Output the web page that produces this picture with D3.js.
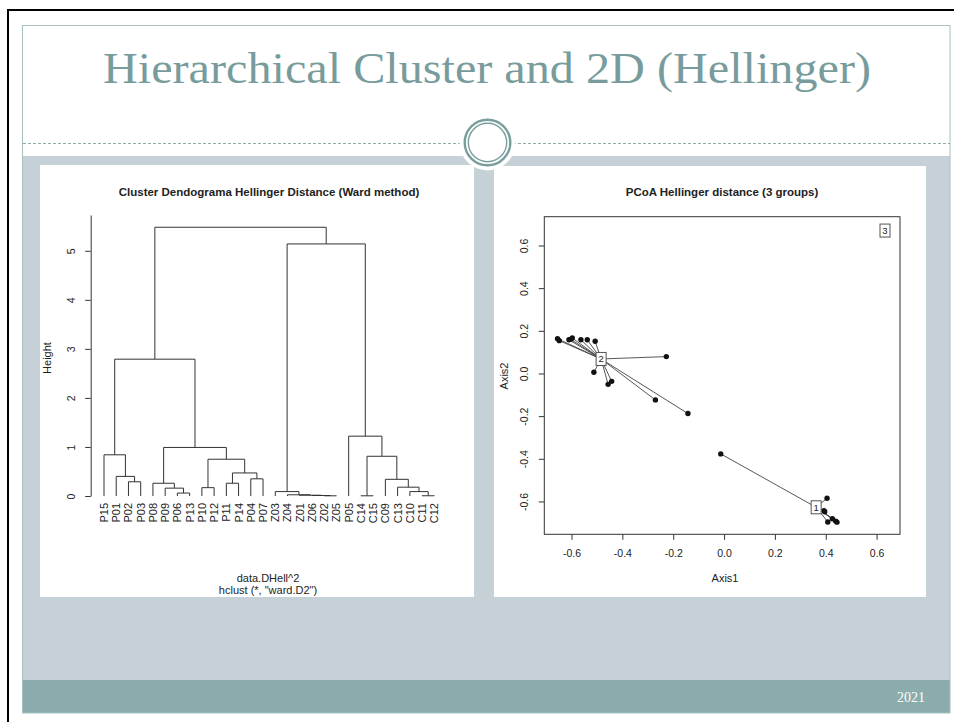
<!DOCTYPE html>
<html>
<head>
<meta charset="utf-8">
<script src="https://cdn.jsdelivr.net/npm/d3@7/dist/d3.min.js"></script>
<style>
  body { margin: 0; background: #fff; }
  text { font-family: 'Liberation Sans', Arial, sans-serif; fill: #222; }
</style>
</head>
<body>
<svg id="slide" width="954" height="722"></svg>
<script>
// dendrogram leaves in plot order (left to right)
const leaves = ['P15', 'P01', 'P02', 'P03', 'P08', 'P09', 'P06', 'P13', 'P10', 'P12', 'P11', 'P14', 'P04', 'P07',
  'Z03', 'Z04', 'Z01', 'Z06', 'Z02', 'Z05', 'P05', 'C14', 'C15', 'C09', 'C13', 'C10', 'C11', 'C12']

// merges, R style: a name is a leaf, a number is an earlier merge (1-based)
const merges = [
  ['P02', 'P03'], ['P01', 1], ['P15', 2],
  ['P06', 'P13'], ['P09', 4], ['P08', 5],
  ['P10', 'P12'], ['P11', 'P14'], ['P04', 'P07'], [8, 9], [7, 10], [6, 11],
  [3, 12],
  ['Z02', 'Z05'], ['Z06', 14], ['Z01', 15], ['Z04', 16], ['Z03', 17],
  ['C11', 'C12'], ['C10', 19], ['C13', 20], ['C09', 21], ['C14', 'C15'], [23, 22], ['P05', 24],
  [18, 25],
  [13, 26]
]
const mergeHeights = [0.29, 0.40, 0.84, 0.06, 0.16, 0.26, 0.17, 0.26, 0.35, 0.47, 0.75, 0.99, 2.79,
  0.004, 0.01, 0.016, 0.025, 0.09, 0.005, 0.09, 0.18, 0.34, 0.004, 0.81, 1.22, 5.14, 5.48]
const heightTicks = [0, 1, 2, 3, 4, 5]

// PCoA scores per group [Axis1, Axis2]
const group1 = [[-0.013, -0.377], [0.405, -0.585], [0.393, -0.643], [0.396, -0.648],
  [0.408, -0.696], [0.426, -0.681], [0.439, -0.692], [0.444, -0.697]]
const group2 = [[-0.655, 0.163], [-0.648, 0.154], [-0.610, 0.158], [-0.603, 0.160], [-0.597, 0.166],
  [-0.563, 0.158], [-0.538, 0.158], [-0.507, 0.151], [-0.227, 0.079], [-0.512, 0.006],
  [-0.456, -0.051], [-0.442, -0.037], [-0.270, -0.124], [-0.142, -0.188]]
const group3 = [[0.633, 0.670], [0.633, 0.671], [0.634, 0.670], [0.633, 0.669], [0.632, 0.670], [0.633, 0.670]]
const groupNames = ['1', '2', '3']
const axisTicks = [-0.6, -0.4, -0.2, 0.0, 0.2, 0.4, 0.6]

const svg = d3.select('#slide')

// ---- slide background ----
svg.append('rect').attr('width', 954).attr('height', 722).attr('fill', '#fff')
svg.append('rect').attr('x', 23).attr('y', 156).attr('width', 927).attr('height', 524).attr('fill', '#c5d1d6')
svg.append('rect').attr('x', 23).attr('y', 680).attr('width', 927).attr('height', 33).attr('fill', '#8aacac')
svg.append('rect')
  .attr('x', 22.5).attr('y', 25.5).attr('width', 927.5).attr('height', 687.5)
  .attr('fill', 'none').attr('stroke', '#a6c0c0')
svg.append('path').attr('d', 'M8,722V10H954').attr('fill', 'none').attr('stroke', '#000').attr('stroke-width', 2)

svg.append('line')
  .attr('x1', 23).attr('x2', 950).attr('y1', 143.5).attr('y2', 143.5)
  .attr('stroke', '#8eabab').attr('stroke-dasharray', '3 2')

svg.append('text')
  .attr('x', 487).attr('y', 83)
  .attr('text-anchor', 'middle')
  .attr('textLength', 768).attr('lengthAdjust', 'spacingAndGlyphs')
  .style('font-family', "'Liberation Serif', 'DejaVu Serif', serif")
  .style('font-size', '44px')
  .style('fill', '#789c9c')
  .text('Hierarchical Cluster and 2D (Hellinger)')

svg.append('text')
  .attr('x', 925).attr('y', 702)
  .attr('text-anchor', 'end')
  .style('font-family', "'Liberation Serif', serif")
  .style('font-size', '14px')
  .style('fill', '#fff')
  .text('2021')

// white panels for the two R plots
svg.append('rect').attr('x', 40).attr('y', 165).attr('width', 434).attr('height', 432).attr('fill', '#fff')
svg.append('rect').attr('x', 494).attr('y', 166).attr('width', 432).attr('height', 431).attr('fill', '#fff')

// ring ornament
svg.append('circle').attr('cx', 487.5).attr('cy', 142.5).attr('r', 28).attr('fill', '#fff')
svg.append('circle').attr('cx', 487.5).attr('cy', 142.5).attr('r', 22.8)
  .attr('fill', '#fff').attr('stroke', '#7a9e9e').attr('stroke-width', 2.4)
svg.append('circle').attr('cx', 487.5).attr('cy', 142.5).attr('r', 19.2)
  .attr('fill', 'none').attr('stroke', '#7a9e9e').attr('stroke-width', 1.4)

// ---- left: dendrogram ----
const dend = svg.append('g')
const xLeaf = d3.scalePoint().domain(leaves).range([104, 434.3])
const yHeight = d3.scaleLinear().domain([0, 5.73]).range([496, 215])

const nodes = []
function nodeOf(ref) {
  if (typeof ref === 'string') return { x: xLeaf(ref), h: 0 }
  return nodes[ref - 1]
}
merges.forEach((m, i) => {
  const a = nodeOf(m[0])
  const b = nodeOf(m[1])
  const h = mergeHeights[i]
  nodes.push({ x: (a.x + b.x) / 2, h: h })
  dend.append('path')
    .attr('d', `M${a.x},${yHeight(a.h)}V${yHeight(h)}H${b.x}V${yHeight(b.h)}`)
    .attr('fill', 'none')
    .attr('stroke', '#333')
    .attr('stroke-width', 1)
})

dend.selectAll('.leaf')
  .data(leaves)
  .enter()
  .append('text')
  .attr('class', 'leaf')
  .attr('transform', d => `translate(${xLeaf(d)},503) rotate(-90)`)
  .attr('text-anchor', 'end')
  .attr('dy', '0.36em')
  .style('font-size', '11px')
  .text(d => d)

const yAxisL = d3.axisLeft(yHeight).tickValues(heightTicks).tickFormat(d => d).tickSize(5.5).tickSizeOuter(0)
const gL = dend.append('g').attr('transform', 'translate(90.7,0)').call(yAxisL)
gL.selectAll('path, line').attr('stroke', '#333')
gL.selectAll('text')
  .attr('transform', 'rotate(-90)')
  .attr('x', 0).attr('y', -15.4).attr('dy', 0)
  .attr('text-anchor', 'middle')
  .style('font-size', '10.5px').style('font-family', "'Liberation Sans', Arial, sans-serif").style('fill', '#222')

dend.append('text')
  .attr('transform', 'translate(51,358) rotate(-90)')
  .attr('text-anchor', 'middle')
  .style('font-size', '11px')
  .text('Height')

dend.append('text').attr('x', 269).attr('y', 196).attr('text-anchor', 'middle')
  .style('font-size', '11.5px').style('font-weight', 'bold')
  .text('Cluster Dendograma Hellinger Distance (Ward method)')
dend.append('text').attr('x', 268).attr('y', 582).attr('text-anchor', 'middle')
  .style('font-size', '11px').text('data.DHell^2')
dend.append('text').attr('x', 268).attr('y', 594).attr('text-anchor', 'middle')
  .style('font-size', '11px').text('hclust (*, "ward.D2")')

// ---- right: PCoA ----
const pc = svg.append('g')
const xAxis1 = d3.scaleLinear().domain([-0.707, 0.692]).range([544.3, 900])
const yAxis2 = d3.scaleLinear().domain([-0.754, 0.735]).range([534.3, 216.7])

pc.append('rect')
  .attr('x', xAxis1.range()[0]).attr('y', yAxis2.range()[1])
  .attr('width', xAxis1.range()[1] - xAxis1.range()[0])
  .attr('height', yAxis2.range()[0] - yAxis2.range()[1])
  .attr('fill', 'none').attr('stroke', '#333')

const gx = pc.append('g').attr('transform', `translate(0,${yAxis2.range()[0]})`)
  .call(d3.axisBottom(xAxis1).tickValues(axisTicks).tickSize(5.5).tickSizeOuter(0).tickFormat(d => d.toFixed(1)))
gx.select('.domain').remove()
gx.selectAll('line').attr('stroke', '#333')
gx.selectAll('text').attr('y', 22.5).attr('dy', 0)
  .style('font-size', '10.5px').style('font-family', "'Liberation Sans', Arial, sans-serif").style('fill', '#222')

const gy = pc.append('g').attr('transform', `translate(${xAxis1.range()[0]},0)`)
  .call(d3.axisLeft(yAxis2).tickValues(axisTicks).tickSize(5.5).tickSizeOuter(0).tickFormat(d => d.toFixed(1)))
gy.select('.domain').remove()
gy.selectAll('line').attr('stroke', '#333')
gy.selectAll('text')
  .attr('transform', 'rotate(-90)')
  .attr('x', 0).attr('y', -16).attr('dy', 0)
  .attr('text-anchor', 'middle')
  .style('font-size', '10.5px').style('font-family', "'Liberation Sans', Arial, sans-serif").style('fill', '#222')

pc.append('text').attr('x', 722).attr('y', 196).attr('text-anchor', 'middle')
  .style('font-size', '11.5px').style('font-weight', 'bold')
  .text('PCoA Hellinger distance (3 groups)')
pc.append('text').attr('x', 725).attr('y', 582).attr('text-anchor', 'middle')
  .style('font-size', '11px').text('Axis1')
pc.append('text')
  .attr('transform', 'translate(508,376) rotate(-90)')
  .attr('text-anchor', 'middle')
  .style('font-size', '11px').text('Axis2')

const groups = [group1, group2, group3]
const centres = groups.map(g => [d3.mean(g, d => d[0]), d3.mean(g, d => d[1])])

groups.forEach((g, i) => {
  const c = centres[i]
  pc.selectAll(null)
    .data(g)
    .enter()
    .append('line')
    .attr('x1', xAxis1(c[0])).attr('y1', yAxis2(c[1]))
    .attr('x2', d => xAxis1(d[0])).attr('y2', d => yAxis2(d[1]))
    .attr('stroke', '#444').attr('stroke-width', 0.9)
  pc.selectAll(null)
    .data(g)
    .enter()
    .append('circle')
    .attr('cx', d => xAxis1(d[0])).attr('cy', d => yAxis2(d[1]))
    .attr('r', 2.7)
    .attr('fill', '#111')
})

// group labels on top
centres.forEach((c, i) => {
  const lab = pc.append('g').attr('transform', `translate(${xAxis1(c[0])},${yAxis2(c[1])})`)
  lab.append('rect').attr('x', -5).attr('y', -6.5).attr('width', 10).attr('height', 13)
    .attr('fill', '#fff').attr('stroke', '#555')
  lab.append('text').attr('text-anchor', 'middle').attr('dy', '0.36em')
    .style('font-size', '9.5px').text(groupNames[i])
})
</script>
</body>
</html>
